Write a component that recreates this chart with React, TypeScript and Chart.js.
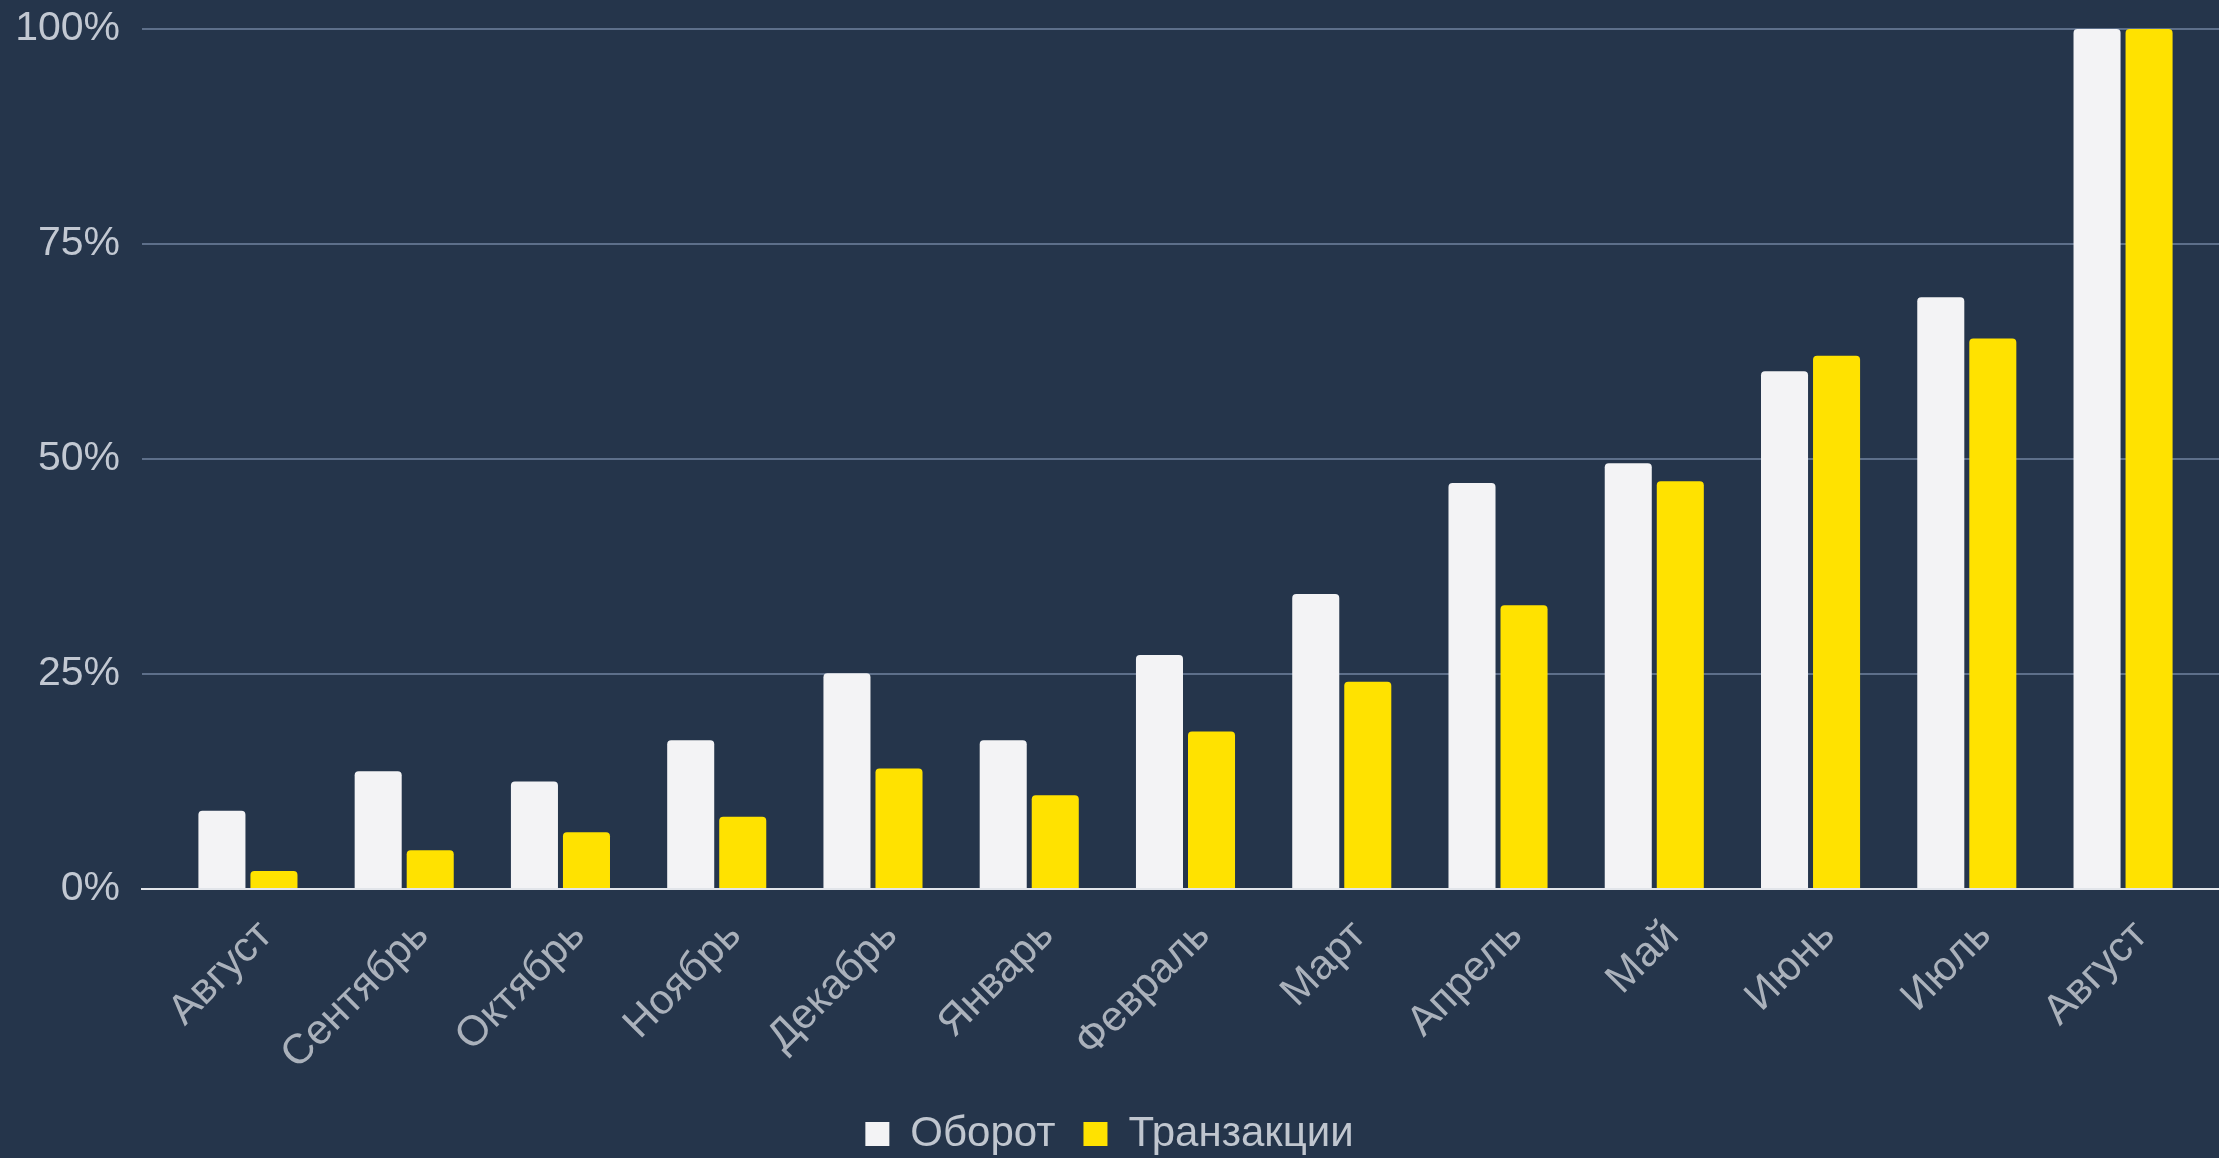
import React, { useEffect, useRef } from "react";
import { Chart, registerables } from "chart.js";

Chart.register(...registerables);

const categories = [
  "Август", "Сентябрь", "Октябрь", "Ноябрь", "Декабрь", "Январь",
  "Февраль", "Март", "Апрель", "Май", "Июнь", "Июль", "Август",
];
const turnover = [9.1, 13.7, 12.5, 17.3, 25.1, 17.3, 27.2, 34.3, 47.2, 49.5, 60.2, 68.8, 100];
const transactions = [2.1, 4.5, 6.6, 8.4, 14.0, 10.9, 18.3, 24.1, 33.0, 47.4, 62.0, 64.0, 100];
const yTicks = [0, 25, 50, 75, 100];
const seriesNames = ["Оборот", "Транзакции"];

const BG = "#25354b";
const FONT = "'Liberation Sans', Arial, sans-serif";

export default function App() {
  const ref = useRef<HTMLCanvasElement | null>(null);

  useEffect(() => {
    document.body.style.margin = "0";
    document.body.style.background = BG;
    const canvas = ref.current;
    if (!canvas) return;
    const chart = new Chart(canvas, {
      type: "bar",
      data: {
        datasets: [
          {
            label: seriesNames[0],
            data: turnover.map((v, i) => ({ x: i, y: v })),
            backgroundColor: "#f3f3f5",
            borderRadius: 4,
            categoryPercentage: 0.666,
            barPercentage: 0.904,
          },
          {
            label: seriesNames[1],
            data: transactions.map((v, i) => ({ x: i, y: v })),
            backgroundColor: "#ffe200",
            borderRadius: 4,
            categoryPercentage: 0.666,
            barPercentage: 0.904,
          },
        ],
      },
      options: {
        responsive: false,
        animation: false,
        layout: { padding: { left: 0, top: 29, right: 0, bottom: -7 } },
        plugins: {
          tooltip: { enabled: false },
          legend: {
            position: "bottom",
            labels: {
              color: "#c0c6cf",
              font: { family: FONT, size: 42 },
              boxWidth: 24,
              boxHeight: 24,
              padding: 28,
            },
          },
        },
        scales: {
          x: {
            type: "linear",
            offset: false,
            min: -0.678,
            max: 12.614,
            afterBuildTicks: (scale: any) => {
              scale.ticks = categories.map((_, i) => ({ value: i }));
            },
            afterFit: (scale: any) => {
              scale.height = 196;
            },
            grid: { display: false, drawTicks: false },
            border: { display: true, color: "#e2e5ea", width: 2 },
            ticks: {
              autoSkip: false,
              minRotation: 45,
              maxRotation: 45,
              padding: 22,
              labelOffset: 18,
              color: "#aab1bb",
              font: { family: FONT, size: 42 },
              callback: (v: any) => categories[v] ?? "",
            },
          },
          y: {
            min: 0,
            max: 100,
            afterBuildTicks: (scale: any) => {
              scale.ticks = yTicks.map((v) => ({ value: v }));
            },
            afterFit: (scale: any) => {
              scale.width = 142;
              scale.paddingTop = 0;
              scale.paddingBottom = 0;
            },
            grid: {
              color: (ctx: any) => (ctx.tick && ctx.tick.value === 0 ? "rgba(0,0,0,0)" : "#5d6f8a"),
              lineWidth: 2,
              drawTicks: false,
            },
            border: { display: false },
            ticks: {
              padding: 22,
              color: "#c2c8d2",
              font: { family: FONT, size: 41 },
              callback: (v: any) => v + "%",
            },
          },
        },
      },
    });
    return () => chart.destroy();
  }, []);

  return (
    <div style={{ position: "fixed", left: 0, top: 0, width: 2219, height: 1158, background: BG }}>
      <canvas ref={ref} width={2219} height={1158} style={{ display: "block" }} />
    </div>
  );
}
